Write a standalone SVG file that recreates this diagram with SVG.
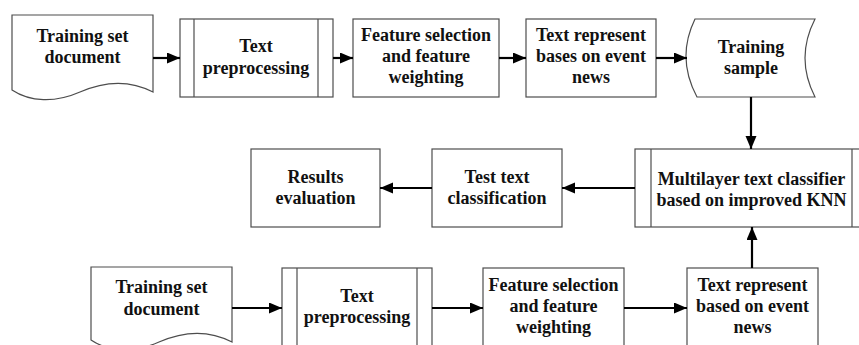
<svg xmlns="http://www.w3.org/2000/svg" width="859" height="345" viewBox="0 0 859 345">
<style>
.box{fill:#fff;stroke:#4d4d4d;stroke-width:1.2}
.ln{fill:none;stroke:#4d4d4d;stroke-width:1.2}
.t{font-family:"Liberation Serif","Times New Roman",serif;font-weight:bold;font-size:18px;fill:#111;text-anchor:middle}
.c{fill:none;stroke:#000;stroke-width:2.2}
</style>
<defs>
<marker id="ah" markerUnits="userSpaceOnUse" markerWidth="14" markerHeight="12" refX="13" refY="5.5" orient="auto">
<path d="M0,0 L13,5.5 L0,11 z" fill="#000"/>
</marker>
</defs>
<rect width="859" height="345" fill="#fff"/>

<g id="doc1">
<path class="box" d="M12,15 H153 V92 C130,80 105,81 80,92 C55,103 30,102 12,90 Z"/>
<text class="t" x="82.5" y="42">Training set</text>
<text class="t" x="82.5" y="63">document</text>
</g>
<g id="prep1">
<rect class="box" x="180" y="19" width="153" height="78"/>
<line class="ln" x1="194" y1="19" x2="194" y2="97"/>
<line class="ln" x1="318" y1="19" x2="318" y2="97"/>
<text class="t" x="256" y="52">Text</text>
<text class="t" x="256" y="74">preprocessing</text>
</g>
<g id="feat1">
<rect class="box" x="353" y="19" width="146" height="78"/>
<text class="t" x="426" y="41">Feature selection</text>
<text class="t" x="426" y="62">and feature</text>
<text class="t" x="426" y="83">weighting</text>
</g>
<g id="rep1">
<rect class="box" x="526" y="19" width="130" height="78"/>
<text class="t" x="591" y="41">Text represent</text>
<text class="t" x="591" y="62">bases on event</text>
<text class="t" x="591" y="83">news</text>
</g>
<g id="sample">
<path class="box" d="M695,19 H815 Q795,58 815,97 H697 Q676,58 695,19 Z"/>
<text class="t" x="751" y="53">Training</text>
<text class="t" x="751" y="74">sample</text>
</g>

<g id="results">
<rect class="box" x="251" y="149" width="129" height="78"/>
<text class="t" x="315.5" y="183">Results</text>
<text class="t" x="315.5" y="204">evaluation</text>
</g>
<g id="testtext">
<rect class="box" x="432" y="149" width="130" height="78"/>
<text class="t" x="497" y="183">Test text</text>
<text class="t" x="497" y="204">classification</text>
</g>
<g id="classifier">
<rect class="box" x="635" y="149" width="232" height="78"/>
<line class="ln" x1="651" y1="149" x2="651" y2="227"/>
<line class="ln" x1="852" y1="149" x2="852" y2="227"/>
<text class="t" x="751.5" y="185">Multilayer text classifier</text>
<text class="t" x="751.5" y="206">based on improved KNN</text>
</g>

<g id="doc2">
<path class="box" d="M91,267 H232 V342 C209,330 184,331 159,342 C134,353 109,352 91,340 Z"/>
<text class="t" x="161.5" y="293">Training set</text>
<text class="t" x="161.5" y="315">document</text>
</g>
<g id="prep2">
<rect class="box" x="282" y="268" width="150" height="80"/>
<line class="ln" x1="297" y1="268" x2="297" y2="348"/>
<line class="ln" x1="417" y1="268" x2="417" y2="348"/>
<text class="t" x="357" y="302">Text</text>
<text class="t" x="357" y="323">preprocessing</text>
</g>
<g id="feat2">
<rect class="box" x="483" y="268" width="141" height="80"/>
<text class="t" x="553.5" y="291">Feature selection</text>
<text class="t" x="553.5" y="312">and feature</text>
<text class="t" x="553.5" y="333">weighting</text>
</g>
<g id="rep2">
<rect class="box" x="687" y="268" width="131" height="80"/>
<text class="t" x="752.5" y="291">Text represent</text>
<text class="t" x="752.5" y="312">based on event</text>
<text class="t" x="752.5" y="333">news</text>
</g>

<g id="connectors">
<line class="c" x1="153" y1="58" x2="180" y2="58" marker-end="url(#ah)"/>
<line class="c" x1="333" y1="58" x2="353" y2="58" marker-end="url(#ah)"/>
<line class="c" x1="499" y1="58" x2="526" y2="58" marker-end="url(#ah)"/>
<line class="c" x1="656" y1="58" x2="687" y2="58" marker-end="url(#ah)"/>
<line class="c" x1="751" y1="97" x2="751" y2="149" marker-end="url(#ah)"/>
<line class="c" x1="635" y1="188" x2="562" y2="188" marker-end="url(#ah)"/>
<line class="c" x1="432" y1="188" x2="380" y2="188" marker-end="url(#ah)"/>
<line class="c" x1="232" y1="308" x2="282" y2="308" marker-end="url(#ah)"/>
<line class="c" x1="432" y1="308" x2="483" y2="308" marker-end="url(#ah)"/>
<line class="c" x1="624" y1="308" x2="687" y2="308" marker-end="url(#ah)"/>
<line class="c" x1="752" y1="268" x2="752" y2="227" marker-end="url(#ah)"/>
</g>
</svg>
